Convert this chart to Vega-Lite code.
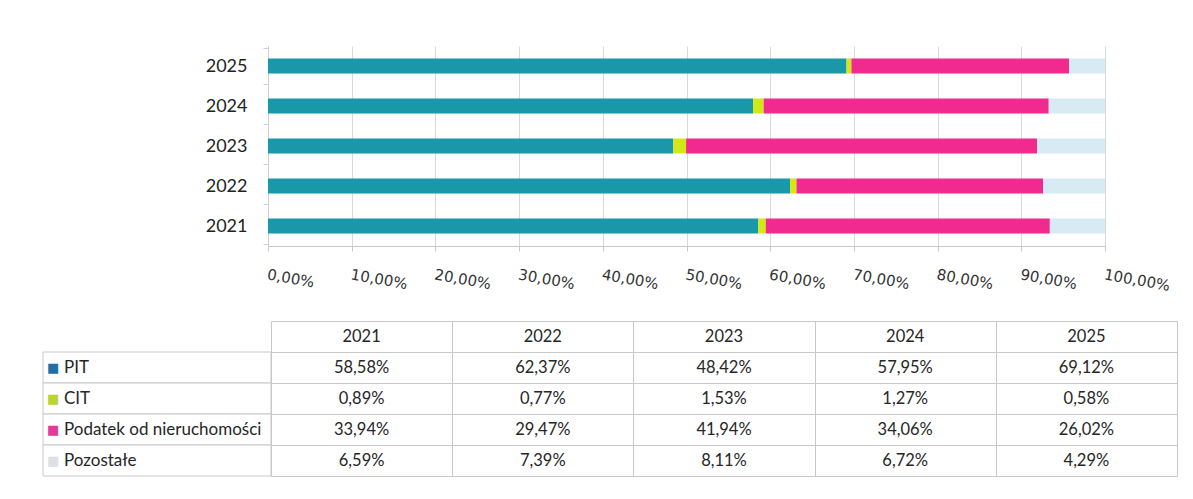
{
  "$schema": "https://vega.github.io/schema/vega-lite/v6.json",
  "background": "white",
  "padding": {"left": 42, "top": 37, "right": 10, "bottom": 10},
  "autosize": {"type": "pad"},
  "config": {
    "locale": {"number": {"decimal": ",", "thousands": " ", "grouping": [3], "currency": ["", " zł"]}},
    "view": {"stroke": null},
    "font": "Lato"
  },
  "datasets": {
    "udzialy": [
      {"rok": "2021", "kategoria": "PIT", "udzial": 0.5858},
      {"rok": "2021", "kategoria": "CIT", "udzial": 0.0089},
      {"rok": "2021", "kategoria": "Podatek od nieruchomości", "udzial": 0.3394},
      {"rok": "2021", "kategoria": "Pozostałe", "udzial": 0.0659},
      {"rok": "2022", "kategoria": "PIT", "udzial": 0.6237},
      {"rok": "2022", "kategoria": "CIT", "udzial": 0.0077},
      {"rok": "2022", "kategoria": "Podatek od nieruchomości", "udzial": 0.2947},
      {"rok": "2022", "kategoria": "Pozostałe", "udzial": 0.0739},
      {"rok": "2023", "kategoria": "PIT", "udzial": 0.4842},
      {"rok": "2023", "kategoria": "CIT", "udzial": 0.0153},
      {"rok": "2023", "kategoria": "Podatek od nieruchomości", "udzial": 0.4194},
      {"rok": "2023", "kategoria": "Pozostałe", "udzial": 0.0811},
      {"rok": "2024", "kategoria": "PIT", "udzial": 0.5795},
      {"rok": "2024", "kategoria": "CIT", "udzial": 0.0127},
      {"rok": "2024", "kategoria": "Podatek od nieruchomości", "udzial": 0.3406},
      {"rok": "2024", "kategoria": "Pozostałe", "udzial": 0.0672},
      {"rok": "2025", "kategoria": "PIT", "udzial": 0.6912},
      {"rok": "2025", "kategoria": "CIT", "udzial": 0.0058},
      {"rok": "2025", "kategoria": "Podatek od nieruchomości", "udzial": 0.2602},
      {"rok": "2025", "kategoria": "Pozostałe", "udzial": 0.0429}
    ]
  },
  "spacing": 27,
  "resolve": {"scale": {"color": "independent"}},
  "vconcat": [
    {
      "bounds": "flush",
      "spacing": 0,
      "hconcat": [
        {"width": 225, "height": 200, "data": {"values": []}, "mark": "point"},
        {
          "width": 837,
          "height": 200,
          "data": {"name": "udzialy"},
          "transform": [{"calculate": "indexof(['PIT', 'CIT', 'Podatek od nieruchomości', 'Pozostałe'], datum.kategoria)", "as": "kolejnosc"}],
          "mark": {"type": "bar", "size": 15},
          "encoding": {
            "y": {
              "field": "rok", "type": "ordinal", "sort": "descending", "title": null,
              "axis": {"labelFontSize": 18, "labelColor": "#222", "labelPadding": 16, "tickBand": "extent", "tickSize": 5, "tickColor": "#d0d0d0", "domainColor": "#cfcfcf", "grid": false, "labelFont": "Lato"}
            },
            "x": {
              "field": "udzial", "type": "quantitative", "stack": "zero", "title": null,
              "scale": {"domain": [0, 1], "nice": false},
              "axis": {"format": ".2%", "values": [0, 0.1, 0.2, 0.3, 0.4, 0.5, 0.6, 0.7, 0.8, 0.9, 1], "labelAngle": 10, "labelAlign": "left", "labelBaseline": "top", "labelPadding": 16, "labelFont": "DejaVu Sans", "labelFontSize": 15, "labelColor": "#333", "grid": true, "gridColor": "#d9d9d9", "domainColor": "#c8c8c8", "tickColor": "#c8c8c8", "tickSize": 5, "labelOverlap": false}
            },
            "color": {
              "field": "kategoria", "type": "nominal",
              "scale": {"domain": ["PIT", "CIT", "Podatek od nieruchomości", "Pozostałe"], "range": ["#1a98a9", "#d2e815", "#f02a8e", "#d8eaf3"]},
              "legend": null
            },
            "order": {"field": "kolejnosc", "type": "quantitative", "sort": "ascending"}
          }
        }
      ]
    },
    {
      "bounds": "flush",
      "spacing": 0,
      "hconcat": [
        {
          "width": 228,
          "height": 155,
          "data": {"name": "udzialy"},
          "transform": [{"filter": "datum.rok == '2021'"}],
          "encoding": {
            "y": {"field": "kategoria", "type": "ordinal", "scale": {"domain": ["Rok", "PIT", "CIT", "Podatek od nieruchomości", "Pozostałe"], "paddingInner": 0, "paddingOuter": 0}, "axis": null}
          },
          "layer": [
            {"mark": {"type": "rect", "fill": "white", "stroke": "#c8c8c8", "strokeWidth": 1}},
            {
              "mark": {"type": "text", "text": "■", "align": "left", "dx": 4, "fontSize": 13, "font": "DejaVu Sans"},
              "encoding": {
                "x": {"datum": 0, "type": "quantitative", "scale": {"domain": [0, 1]}, "axis": null},
                "color": {"field": "kategoria", "type": "nominal", "scale": {"domain": ["PIT", "CIT", "Podatek od nieruchomości", "Pozostałe"], "range": ["#1f6ea8", "#b9d62e", "#e6389a", "#dde1e4"]}, "legend": null}
              }
            },
            {
              "mark": {"type": "text", "align": "left", "dx": 21, "fontSize": 17, "color": "#262626"},
              "encoding": {
                "x": {"datum": 0, "type": "quantitative", "scale": {"domain": [0, 1]}, "axis": null},
                "text": {"field": "kategoria"}
              }
            }
          ]
        },
        {
          "width": 906,
          "height": 155,
          "data": {"name": "udzialy"},
          "encoding": {
            "x": {"field": "rok", "type": "ordinal", "title": null, "scale": {"paddingInner": 0, "paddingOuter": 0}, "axis": {"orient": "top", "labels": false, "ticks": false, "domain": false, "grid": true, "tickBand": "extent", "gridColor": "#c8c8c8"}},
            "y": {"field": "kategoria", "type": "ordinal", "title": null, "scale": {"domain": ["Rok", "PIT", "CIT", "Podatek od nieruchomości", "Pozostałe"], "paddingInner": 0, "paddingOuter": 0}, "axis": {"labels": false, "ticks": false, "domain": false, "grid": true, "tickBand": "extent", "gridColor": "#c8c8c8"}}
          },
          "layer": [
            {
              "mark": {"type": "text", "fontSize": 16.5, "color": "#262626"},
              "encoding": {"text": {"field": "udzial", "type": "quantitative", "format": ".2%"}}
            },
            {
              "transform": [{"filter": "datum.kategoria == 'PIT'"}],
              "mark": {"type": "text", "fontSize": 16.5, "color": "#262626"},
              "encoding": {"y": {"datum": "Rok"}, "text": {"field": "rok"}}
            }
          ]
        }
      ]
    }
  ]
}
